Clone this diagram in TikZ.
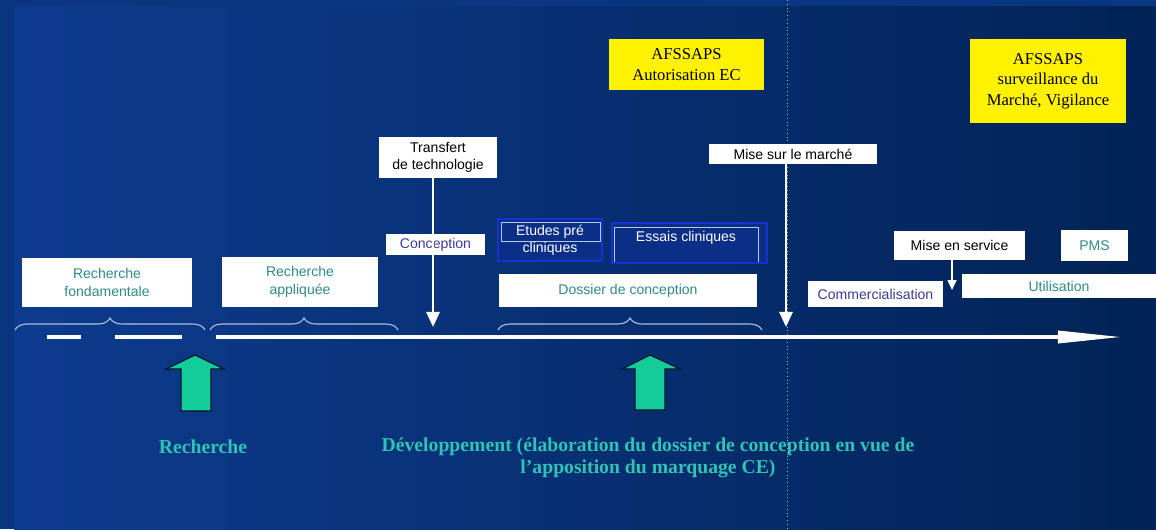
\documentclass[tikz,border=0pt]{standalone}
\usepackage{fontspec}
\setmainfont{Liberation Serif}
\setsansfont{Liberation Sans}
\usetikzlibrary{arrows.meta,decorations.pathreplacing}
\definecolor{bgEdge}{HTML}{0A3580}
\definecolor{bgL}{HTML}{0D3B8E}
\definecolor{bgM}{HTML}{0A3384}
\definecolor{bgR}{HTML}{012356}
\definecolor{tealT}{HTML}{2E8B87}
\definecolor{slateT}{HTML}{3C3C96}
\definecolor{braceC}{HTML}{AEBEDC}
\definecolor{mint}{HTML}{14CC9A}
\definecolor{labelT}{HTML}{2FC3B5}
\definecolor{navyBox}{HTML}{0B2F86}
\definecolor{blueEdge}{HTML}{1232D2}
\definecolor{lightEdge}{HTML}{B8C8EC}
\tikzset{
  wbox/.style={fill=white, inner sep=0pt, align=center,
    font=\sffamily\fontsize{10}{13}\selectfont},
  ybox/.style={fill=yellow, inner sep=0pt, align=center,
    font=\rmfamily\fontsize{11.8}{14.5}\selectfont},
  nbox/.style={fill=navyBox, draw=blueEdge, line width=1.2pt, inner sep=0pt,
    align=center, text=white, font=\sffamily\fontsize{10}{12}\selectfont},
  warrow/.style={draw=white, line width=2pt, -{Triangle[length=0.38cm,width=0.33cm]}},
  sarrow/.style={draw=white, line width=1.5pt, -{Triangle[length=0.25cm,width=0.22cm]}},
  bracket/.style={draw=braceC, line width=0.8pt, decorate,
    decoration={brace, amplitude=0.3cm}},
  bigup/.style={fill=mint, draw=black!70!bgL, line width=0.8pt},
  phase/.style={text=labelT, align=center,
    font=\rmfamily\bfseries\fontsize{14}{16}\selectfont}
}
\begin{document}
\begin{tikzpicture}[x=0.025cm, y=-0.025cm]
  \useasboundingbox (0,0) rectangle (1156,529);
  % background
  \fill[bgEdge] (0,0) rectangle (1156,529);
  \shade[left color=bgL, middle color=bgM, right color=bgR] (14,6) rectangle (1156,529);
  \draw[dotted, white!60!bgM, line width=0.7pt] (787,0) -- (787,529);

  % yellow boxes
  \node[ybox, minimum width=3.875cm, minimum height=1.275cm] (afsA) at (686.5,64.5)
    {AFSSAPS\\Autorisation EC};
  \node[ybox, minimum width=3.9cm, minimum height=2.1cm] (afsB) at (1048,81)
    {AFSSAPS\\surveillance du\\Marché, Vigilance};

  % steps above the time line
  \node[wbox, text=tealT, minimum width=4.25cm, minimum height=1.225cm] (fond) at (107,282.5)
    {Recherche\\fondamentale};
  \node[wbox, text=tealT, minimum width=3.9cm, minimum height=1.25cm] (appl) at (300,282)
    {Recherche\\appliquée};
  \node[wbox, text=slateT, minimum width=2.475cm, minimum height=0.525cm] (conc) at (435.5,244.5)
    {Conception};
  \node[wbox, text=black, minimum width=2.95cm, minimum height=1.025cm,
    font=\sffamily\fontsize{10}{12}\selectfont] (transf) at (438,157.5)
    {Transfert\\de technologie};
  \node[nbox, minimum width=2.6cm, minimum height=1.05cm] (etud) at (550,240)
    {Etudes pré\\cliniques};
  \draw[lightEdge, line width=0.6pt] (501,222) rectangle (600,241);
  \node[nbox, minimum width=3.875cm, minimum height=1.0cm] (essais) at (689.5,243) {};
  \draw[lightEdge, line width=0.6pt] (614,262) |- (758,227) -- (758,262);
  \node[text=white, font=\sffamily\fontsize{10}{12}\selectfont] (essaisT) at (686,238)
    {Essais cliniques};
  \node[wbox, text=tealT, minimum width=6.45cm, minimum height=0.825cm] (doss) at (628,290.5)
    {Dossier de conception};
  \node[wbox, text=black, minimum width=4.2cm, minimum height=0.5cm] (mmarche) at (793,154)
    {Mise sur le marché};
  \node[wbox, text=black, minimum width=3.275cm, minimum height=0.725cm] (mserv) at (959.5,245.5)
    {Mise en service};
  \node[wbox, text=tealT, minimum width=1.675cm, minimum height=0.775cm] (pms) at (1094.5,245.5)
    {PMS};
  \node[wbox, text=slateT, minimum width=3.375cm, minimum height=0.65cm] (comm) at (875.5,294)
    {Commercialisation};
  \node[wbox, text=tealT, minimum width=4.85cm, minimum height=0.6cm] (util) at (1059,286)
    {Utilisation};

  % braces
  \draw[bracket] (15,330) -- (205,330);
  \draw[bracket] (210,330) -- (398,330);
  \draw[bracket] (498,330) -- (762,330);

  % time line
  \coordinate (d1) at (47,337);
  \coordinate (d2) at (81,337);
  \coordinate (d3) at (115,337);
  \coordinate (d4) at (182,337);
  \coordinate (tl0) at (216,337);
  \coordinate (tl1) at (1122,337);
  \begin{scope}[line width=2.6pt]
    \draw[black!80!bgL, yshift=-0.6pt] (d1) -- (d2) (d3) -- (d4);
    \draw[white] (d1) -- (d2) (d3) -- (d4);
    \draw[black!80!bgL, yshift=-0.6pt, -{Triangle[length=1.6cm,width=0.3cm]}] (tl0) -- (tl1);
    \draw[white, -{Triangle[length=1.6cm,width=0.3cm]}] (tl0) -- (tl1);
  \end{scope}

  % events
  \coordinate (t1) at (433,327);
  \coordinate (t2) at (786,327);
  \coordinate (t3) at (952,290);
  \draw[warrow] (transf.south -| t1) -- (t1);
  \draw[warrow] (mmarche.south -| t2) -- (t2);
  \draw[sarrow] (mserv.south -| t3) -- (t3);

  % phases
  \draw[bigup] (195,355) -- (224,369) -- (211,369) -- (211,411)
    -- (181,411) -- (181,369) -- (166,369) -- cycle;
  \draw[bigup] (650,355) -- (680,369) -- (665,369) -- (665,410)
    -- (635,410) -- (635,369) -- (622,369) -- cycle;
  \node[phase] (rech) at (203,447) {Recherche};
  \node[phase] (dev) at (648,458)
    {Développement (élaboration du dossier de conception en vue de\\l’apposition du marquage CE)};
\end{tikzpicture}
\end{document}
